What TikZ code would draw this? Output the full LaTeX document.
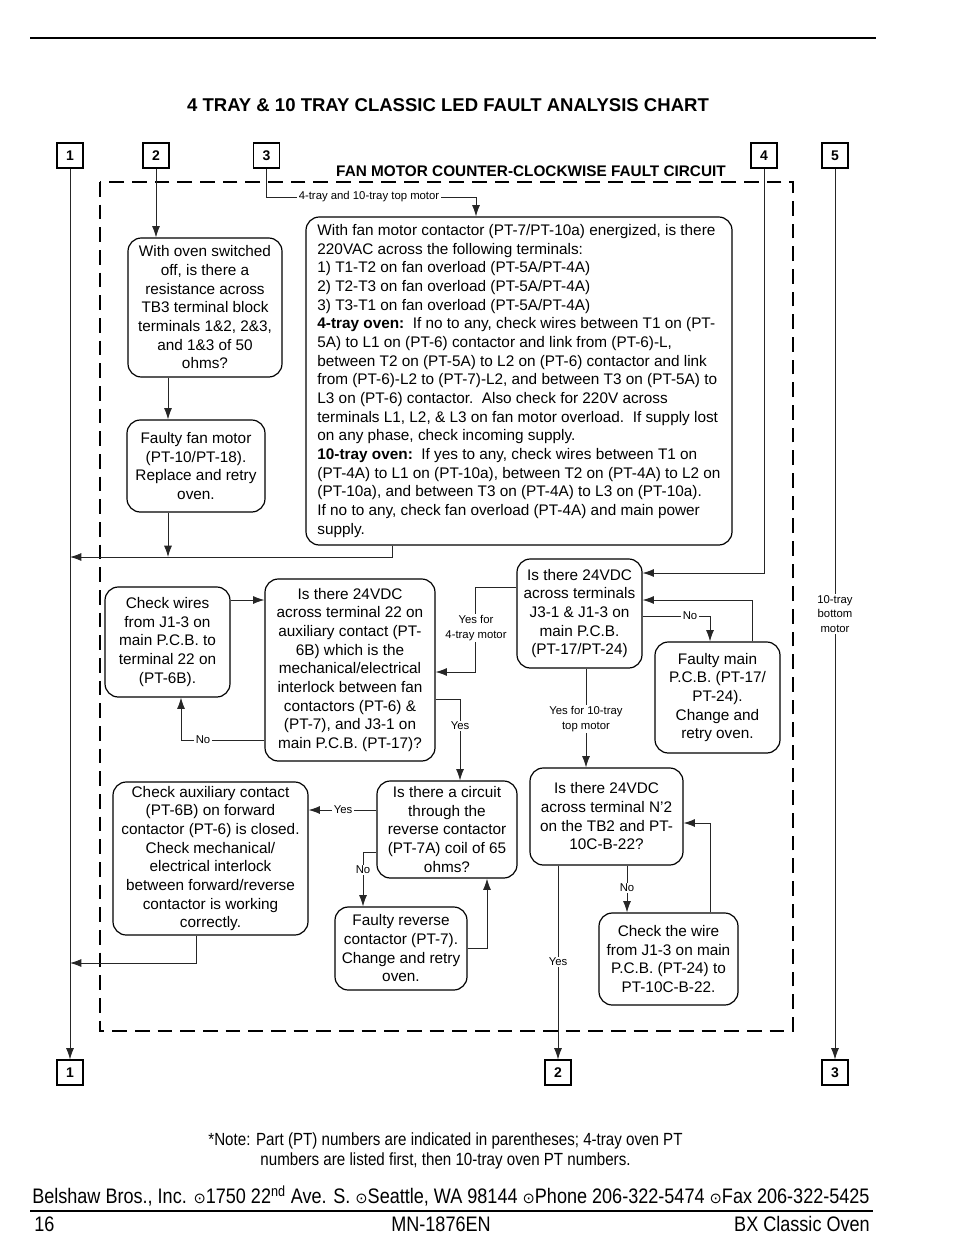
\documentclass[tikz,border=0pt]{standalone}
\usepackage{fontspec}
\setmainfont{Liberation Sans}
\newfontfamily\narrowfont[FakeStretch=0.86]{Liberation Sans}
\newfontfamily\symfont{DejaVu Sans}
\usetikzlibrary{arrows.meta}
\tikzset{
  bx/.style={draw, line width=0.9pt, rounded corners=10pt, align=center, inner sep=0pt,
    font=\fontsize{11.5}{14}\selectfont},
  conn/.style={line width=0.65pt, draw=black!85},
  arr/.style={conn, -{Latex[length=8.5pt,width=6pt]}},
  lbl/.style={fill=white, inner sep=1pt, font=\fontsize{8.5}{11}\selectfont, align=center},
  numbox/.style={draw, line width=0.8pt, minimum width=19.5pt, minimum height=18.75pt,
    inner sep=0pt, font=\fontsize{10.5}{12}\bfseries\selectfont},
  frame/.style={line width=2.2pt, dash pattern=on 11pt off 6pt},
  foot/.style={inner sep=0pt, font=\narrowfont\fontsize{15.75}{18}\selectfont},
}
\newcommand{\phsym}{{\symfont\fontsize{11}{12}\selectfont ⊙}}
\begin{document}
\begin{tikzpicture}[x=0.75pt,y=-0.75pt]
\useasboundingbox (0,0) rectangle (954,1260);
% page rules
\draw[line width=0.8pt] (30,38) -- (876,38);
\draw[line width=0.8pt] (30,1211) -- (873,1211);
% titles
\node[anchor=base, font=\fontsize{13.9}{16}\bfseries\selectfont] (title) at (448,111)
  {4 TRAY \& 10 TRAY CLASSIC LED FAULT ANALYSIS CHART};
\node[anchor=base, font=\fontsize{11.5}{14}\bfseries\selectfont] (subtitle) at (531,176)
  {FAN MOTOR COUNTER-CLOCKWISE FAULT CIRCUIT};
% dashed frame
\draw[frame] (100,182) rectangle (793,1031);
% connector boxes
\node[numbox] (T1) at (70,155.5) {1};
\node[numbox] (T2) at (156,155.5) {2};
\node[numbox] (T3) at (266.5,155.5) {3};
\node[numbox] (T4) at (764,155.5) {4};
\node[numbox] (T5) at (835,155.5) {5};
\node[numbox] (B1) at (70,1072.5) {1};
\node[numbox] (B2) at (558,1072.5) {2};
\node[numbox] (B3) at (835,1072.5) {3};
% boxes
\node[bx, minimum width=115.5pt, minimum height=104.25pt] (A) at (205,307.5)
  {With oven switched\\off, is there a\\resistance across\\TB3 terminal block\\terminals 1\&2, 2\&3,\\and 1\&3 of 50\\ohms?};
\node[bx, minimum width=103.5pt, minimum height=69pt] (B) at (196,466)
  {Faulty fan motor\\(PT-10/PT-18).\\Replace and retry\\oven.};
\node[bx, align=left, minimum width=319.5pt, minimum height=246pt] (C) at (519,381)
  {With fan motor contactor (PT-7/PT-10a) energized, is there\\
   220VAC across the following terminals:\\
   1) T1-T2 on fan overload (PT-5A/PT-4A)\\
   2) T2-T3 on fan overload (PT-5A/PT-4A)\\
   3) T3-T1 on fan overload (PT-5A/PT-4A)\\
   \textbf{4-tray oven:}\ \ If no to any, check wires between T1 on (PT-\\
   5A) to L1 on (PT-6) contactor and link from (PT-6)-L,\\
   between T2 on (PT-5A) to L2 on (PT-6) contactor and link\\
   from (PT-6)-L2 to (PT-7)-L2, and between T3 on (PT-5A) to\\
   L3 on (PT-6) contactor.\ \ Also check for 220V across\\
   terminals L1, L2, \& L3 on fan motor overload.\ \ If supply lost\\
   on any phase, check incoming supply.\\
   \textbf{10-tray oven:}\ \ If yes to any, check wires between T1 on\\
   (PT-4A) to L1 on (PT-10a), between T2 on (PT-4A) to L2 on\\
   (PT-10a), and between T3 on (PT-4A) to L3 on (PT-10a).\\
   If no to any, check fan overload (PT-4A) and main power\\
   supply.};
\node[bx, minimum width=93.75pt, minimum height=82.5pt] (D) at (167.5,642)
  {Check wires\\from J1-3 on\\main P.C.B. to\\terminal 22 on\\(PT-6B).};
\node[bx, minimum width=127.5pt, minimum height=136.5pt] (E) at (350,670)
  {Is there 24VDC\\across terminal 22 on\\auxiliary contact (PT-\\6B) which is the\\mechanical/electrical\\interlock between fan\\contactors (PT-6) \&\\(PT-7), and J3-1 on\\main P.C.B. (PT-17)?};
\node[bx, minimum width=93.75pt, minimum height=81.75pt] (F) at (579.5,613.5)
  {Is there 24VDC\\across terminals\\J3-1 \& J1-3 on\\main P.C.B.\\(PT-17/PT-24)};
\node[bx, minimum width=93.75pt, minimum height=83.25pt] (H) at (717.5,697.5)
  {Faulty main\\P.C.B. (PT-17/\\PT-24).\\Change and\\retry oven.};
\node[bx, minimum width=114.75pt, minimum height=72.75pt] (I) at (606.5,816.5)
  {Is there 24VDC\\across terminal N'2\\on the TB2 and PT-\\10C-B-22?};
\node[bx, minimum width=104.25pt, minimum height=69pt] (J) at (668.5,959)
  {Check the wire\\from J1-3 on main\\P.C.B. (PT-24) to\\PT-10C-B-22.};
\node[bx, minimum width=105pt, minimum height=72.75pt] (G) at (447,829.5)
  {Is there a circuit\\through the\\reverse contactor\\(PT-7A) coil of 65\\ohms?};
\node[bx, minimum width=146.25pt, minimum height=114.75pt] (K) at (210.5,858.5)
  {Check auxiliary contact\\(PT-6B) on forward\\contactor (PT-6) is closed.\\Check mechanical/\\electrical interlock\\between forward/reverse\\contactor is working\\correctly.};
\node[bx, minimum width=99pt, minimum height=62.25pt] (L) at (401,948.5)
  {Faulty reverse\\contactor (PT-7).\\Change and retry\\oven.};
% helper coordinates
\foreach \v in {70,168,181,196,363,392,460,475,476,487,558,586,627,710,752}
  {\coordinate (x\v) at (\v,0);}
\foreach \v in {197,557,573,587,600,616,672,699,740,810,823,852,948,963}
  {\coordinate (y\v) at (0,\v);}
% connectors
\draw[arr] (T1.south) -- (B1.north);
\draw[arr] (T2.south) -- (T2.south |- A.north);
\draw[arr] (T3.south) |- (x476 |- y197) -- (C.north -| x476);
\node[lbl] (l3) at (369,197) {4-tray and 10-tray top motor};
\draw[arr] (T4.south) |- (F.east |- y573);
\draw[arr] (T5.south) -- (B3.north);
\node[lbl] (l5) at (835,614) {10-tray\\bottom\\motor};
\draw[arr] (A.south -| x168) -- (B.north -| x168);
\draw[arr] (B.south -| x168) -- (x168 |- y557);
\draw[arr] (C.south -| x392) |- (x70 |- y557);
\draw[arr] (D.east |- y600) -- (E.west |- y600);
\draw[arr] (E.west |- y740) -| (D.south -| x181);
\node[lbl] (lno1) at (203,740) {No};
\draw[arr] (F.west |- y587) -| (x475 |- y672) -- (E.east |- y672);
\node[lbl] (ly4) at (476,628) {Yes for\\4-tray motor};
\draw[arr] (E.east |- y699) -| (G.north -| x460);
\node[lbl] (lyes1) at (460,726) {Yes};
\draw[arr] (F.east |- y616) -| (H.north -| x710);
\node[lbl] (lno2) at (690,616) {No};
\draw[arr] (H.north -| x752) |- (F.east |- y600);
\draw[arr] (F.south -| x586) -- (I.north -| x586);
\node[lbl] (ly10) at (586,719) {Yes for 10-tray\\top motor};
\draw[arr] (I.south -| x627) -- (J.north -| x627);
\node[lbl] (lno3) at (627,888) {No};
\draw[arr] (J.north -| x710) |- (I.east |- y823);
\draw[arr] (I.south -| x558) -- (B2.north);
\node[lbl] (lyes2) at (558,962) {Yes};
\draw[arr] (G.west |- y810) -- (K.east |- y810);
\node[lbl] (lyes3) at (343,810) {Yes};
\draw[arr] (G.west |- y852) -| (L.north -| x363);
\node[lbl] (lno4) at (363,870) {No};
\draw[arr] (L.east |- y948) -| (G.south -| x487);
\draw[arr] (K.south -| x196) |- (x70 |- y963);
% footer
\node[anchor=base, font=\narrowfont\fontsize{13.2}{15}\selectfont] (note1) at (445.5,1145)
  {*Note: Part (PT) numbers are indicated in parentheses; 4-tray oven PT};
\node[anchor=base, font=\narrowfont\fontsize{13.2}{15}\selectfont] (note2) at (445.5,1165)
  {numbers are listed first, then 10-tray oven PT numbers.};
\node[foot, anchor=base west] (addr) at (32,1203)
  {Belshaw Bros., Inc. \phsym1750 22\textsuperscript{nd} Ave. S. \phsym Seattle, WA 98144 \phsym Phone 206-322-5474 \phsym Fax 206-322-5425};
\node[foot, anchor=base west] (pg) at (34,1231) {16};
\node[foot, anchor=base] (mn) at (441,1231) {MN-1876EN};
\node[foot, anchor=base east] (bx) at (870,1231) {BX Classic Oven};
\end{tikzpicture}
\end{document}
